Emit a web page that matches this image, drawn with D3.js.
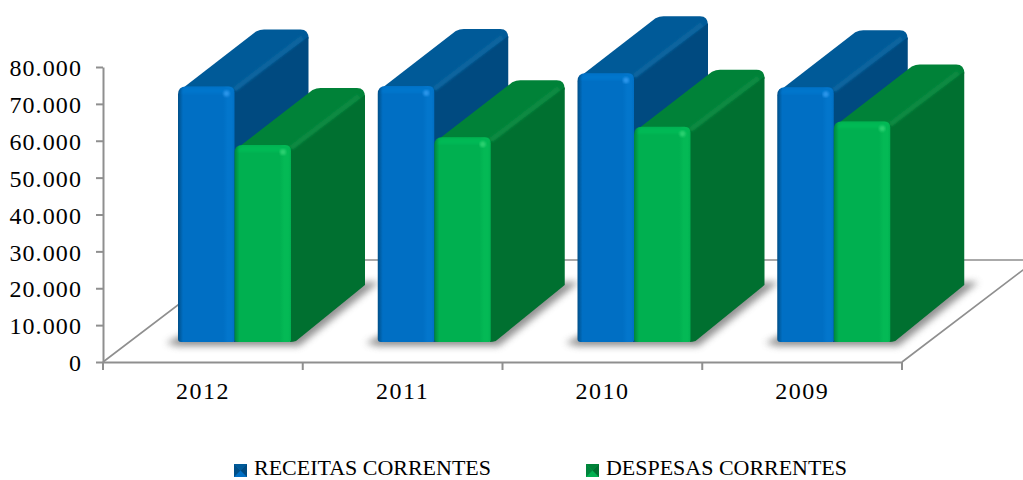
<!DOCTYPE html>
<html><head><meta charset="utf-8">
<script src="https://cdn.jsdelivr.net/npm/d3@7"></script>
<style>html,body{margin:0;padding:0;background:#fff;overflow:hidden}svg{display:block}
text{font-family:"Liberation Serif",serif;fill:#000}</style></head><body>
<div id="c"></div>
<script>
const categories=["2012","2011","2010","2009"];
const seriesNames=["RECEITAS CORRENTES","DESPESAS CORRENTES"];
const receitas=[69300,69400,72900,69100];
const despesas=[53400,55500,58400,59800];
const yTicks=[0,10000,20000,30000,40000,50000,60000,70000,80000];
const W=1023,H=480,dx=74,dy=-57,floorDx=134,floorDy=-102,baseLift=20,r=6;
const svg=d3.select("#c").append("svg").attr("width",W).attr("height",H);
const defs=svg.append("defs");
const x=d3.scaleBand().domain(categories).range([103,902]);
const xs=d3.scaleBand().domain(seriesNames).range([75,188]);
const y=d3.scaleLinear().domain([0,80000]).range([362,67]);
const loc=d3.formatLocale({decimal:",",thousands:".",grouping:[3],currency:["",""]});
const fmt=loc.format(",d");
const pal={[seriesNames[0]]:{e:"#004f88",f:"#006fc4",l:"#0376cc",t:"#005a98",s:"#004a80",b:"#0a659f",hi:"#2a95ea"},
           [seriesNames[1]]:{e:"#00843c",f:"#00b050",l:"#04b955",t:"#008238",s:"#007030",b:"#0b8a42",hi:"#2ad070"}};
seriesNames.forEach((n,i)=>{
  const p=pal[n];
  const g=defs.append("linearGradient").attr("id","front"+i);
  [[0,p.e],[.09,p.f],[.8,p.f],[.88,p.l],[.95,p.l],[1,p.f]].forEach(s=>g.append("stop").attr("offset",s[0]).attr("stop-color",s[1]));
});
defs.append("filter").attr("id","blur").attr("x","-30%").attr("y","-30%").attr("width","160%").attr("height","160%")
  .append("feGaussianBlur").attr("stdDeviation",3.5);
defs.append("filter").attr("id","soft").append("feGaussianBlur").attr("stdDeviation",1.2);

// floor
const o=y(0), xa=x.range()[0], xb=x.range()[1];
const grid="#8f8f8f";
const fl=svg.append("g").attr("fill","none").attr("stroke",grid).attr("stroke-width",1.6);
fl.append("path").attr("d",`M${xa},${o}L${xa+floorDx},${o+floorDy}L${xb+floorDx},${o+floorDy}L${xb},${o}`);

const rows=[receitas,despesas];
// shadows
const sh=svg.append("g").attr("filter","url(#blur)").attr("fill","#777").attr("opacity",.8);
categories.forEach((c)=>{
  const x0=x(c)+xs(seriesNames[0]),x1=x(c)+xs(seriesNames[1])+xs.bandwidth(),b=o-baseLift;
  sh.append("path").attr("d",`M${x0-12},${b+1}L${x0+10},${b-10}L${x1+dx},${b+dy-3}L${x1+dx+14},${b+dy-3}L${x1+8},${b+4}L${x0},${b+4}Z`);
});

// bars
categories.forEach((c,ci)=>{
  seriesNames.forEach((n,si)=>{
    const p=pal[n],v=rows[si][ci];
    const x0=x(c)+xs(n),w=xs.bandwidth(),x1=x0+w,t=y(v)-baseLift,b=o-baseLift;
    const g=svg.append("g");
    g.append("path").attr("fill",p.t).attr("d",
      `M${x0+3},${t+3}L${x0+dx+4},${t+dy+2}Q${x0+dx+8},${t+dy} ${x0+dx+12},${t+dy}L${x1+dx-8},${t+dy}Q${x1+dx},${t+dy} ${x1+dx},${t+dy+9}L${x1},${t+8}Z`);
    g.append("path").attr("fill",p.s).attr("d",
      `M${x1-1},${t+5}L${x1+dx},${t+dy+7}L${x1+dx},${b+dy}L${x1+5},${b-1}Q${x1+2},${b} ${x1-1},${b}Z`);
    g.append("path").attr("fill","none").attr("stroke",p.b).attr("stroke-width",5).attr("filter","url(#soft)")
      .attr("d",`M${x1},${t+3}L${x1+dx-6},${t+dy+8}`);
    g.append("path").attr("fill",`url(#front${si})`).attr("d",
      `M${x0},${t+r+2}Q${x0},${t} ${x0+r+2},${t}L${x1-r},${t}Q${x1},${t} ${x1},${t+r}L${x1},${b-2}Q${x1},${b} ${x1-3},${b}L${x0+3},${b}Q${x0},${b} ${x0},${b-3}Z`);
    g.append("path").attr("fill",p.l).attr("d",
      `M${x0+4},${t+7}Q${x0+4},${t+1} ${x0+9},${t+1}L${x1-3},${t+1}L${x1-3},${t+7}Z`).attr("filter","url(#soft)");
    g.append("circle").attr("cx",x1-8).attr("cy",t+7).attr("r",3).attr("fill",p.hi).attr("filter","url(#soft)");
  });
});

// axes
const axL=svg.append("g").attr("transform",`translate(${xa},0)`).call(d3.axisLeft(y).tickValues(yTicks).tickFormat(d=>fmt(d)).tickSize(7).tickSizeOuter(0));
const axB=svg.append("g").attr("transform",`translate(0,${o})`).call(d3.axisBottom(x).tickSize(0).tickPadding(20));
[axL,axB].forEach(a=>{a.select(".domain").attr("stroke",grid).attr("stroke-width",2);a.selectAll("line").attr("stroke",grid).attr("stroke-width",2);});
axL.selectAll("text").attr("font-size",24).attr("x",-21).attr("dy","0.36em").style("letter-spacing","1.1px").style("font-family",'"Liberation Serif",serif').attr("fill","#000");
axB.selectAll("text").attr("font-size",24).style("letter-spacing","1.5px").style("font-family",'"Liberation Serif",serif').attr("fill","#000");
axB.selectAll(".edge").data(d3.range(categories.length+1)).enter().append("line").attr("class","edge")
  .attr("x1",i=>xa+i*x.step()).attr("x2",i=>xa+i*x.step()).attr("y1",0).attr("y2",8).attr("stroke",grid).attr("stroke-width",2);

// legend
const legendX=[234,586], legendLen=[237,241];
seriesNames.forEach((n,i)=>{
  const g=svg.append("g").attr("transform",`translate(${legendX[i]},464)`);
  const s=13,p=pal[n];
  g.append("rect").attr("width",s).attr("height",s).attr("fill",p.f);
  g.append("path").attr("d",`M0,0L${s/2},${s/2}L0,${s}Z`).attr("fill",p.e);
  g.append("path").attr("d",`M0,0L${s},0L${s/2},${s/2}Z`).attr("fill",p.t);
  g.append("path").attr("d",`M${s},0L${s},${s}L${s/2},${s/2}Z`).attr("fill",p.s);
  g.append("text").attr("x",20).attr("y",11).attr("font-size",22)
    .attr("textLength",legendLen[i]).attr("lengthAdjust","spacingAndGlyphs").text(n);
});
</script></body></html>
